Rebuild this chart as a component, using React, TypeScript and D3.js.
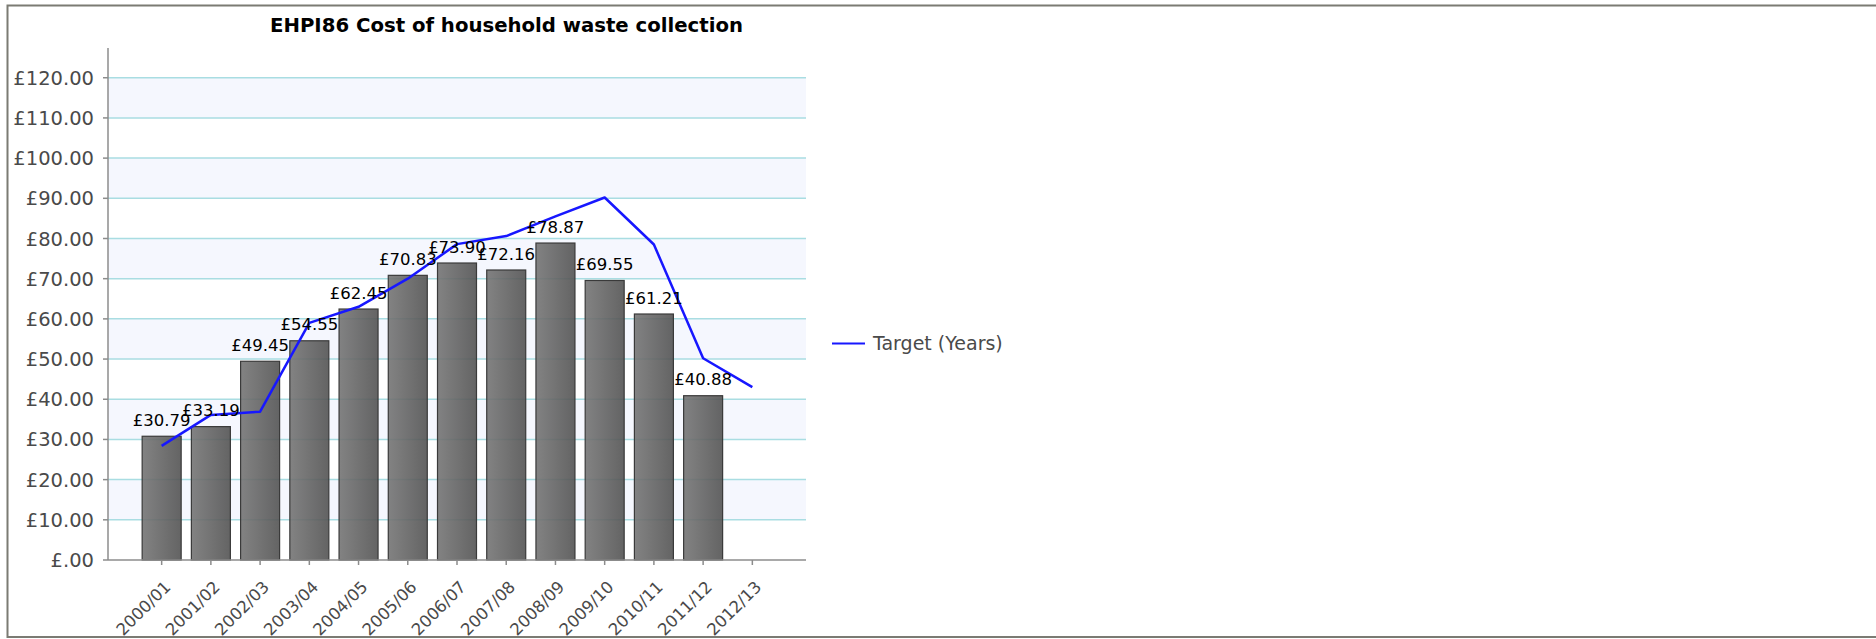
import * as d3 from "d3";

const categories = [
  "2000/01", "2001/02", "2002/03", "2003/04", "2004/05", "2005/06", "2006/07",
  "2007/08", "2008/09", "2009/10", "2010/11", "2011/12", "2012/13",
];
// actual cost per household (no value yet for 2012/13)
const actualValues: (number | null)[] = [
  30.79, 33.19, 49.45, 54.55, 62.45, 70.83, 73.9, 72.16, 78.87, 69.55, 61.21, 40.88, null,
];
// target line
const targetValues = [28.4, 36.1, 36.9, 59, 63, 70, 78.6, 80.6, 85.5, 90.2, 78.5, 50.2, 43];
const yTicks = [0, 10, 20, 30, 40, 50, 60, 70, 80, 90, 100, 110, 120];

const W = 1876;
const H = 639;
const plot = { left: 108, right: 806, top: 48, bottom: 560 };

const fmtMoney = (v: number) => (v === 0 ? "£.00" : "£" + v.toFixed(2));

export default function App() {
  const x = d3
    .scalePoint<string>()
    .domain(categories)
    .range([plot.left, plot.right])
    .padding(1.09);

  const y = d3.scaleLinear().domain([0, 127.4]).range([plot.bottom, plot.top]);

  const barW = 39;

  const line = d3
    .line<number>()
    .x((_, i) => x(categories[i])!)
    .y((d) => y(d));

  // alternating pale bands between gridlines
  const bands = yTicks.slice(0, -1).filter((_, i) => i % 2 === 1);

  return (
    <svg
      width={W}
      height={H}
      style={{ position: "absolute", left: 0, top: 0, background: "#fff" }}
    >
      <defs>
        <linearGradient id="barGrad" x1="0" x2="1" y1="0" y2="0">
          <stop offset="0" stopColor="#757575" />
          <stop offset="1" stopColor="#535353" />
        </linearGradient>
      </defs>

      {/* outer frame */}
      <rect x={7.5} y={5.5} width={W} height={631.5} fill="none" stroke="#7b7b73" strokeWidth={2} />

      {/* title */}
      <text
        x={506.5}
        y={31.5}
        textAnchor="middle"
        fontFamily="DejaVu Sans"
        fontWeight="bold"
        fontSize={20}
        textLength={473}
        lengthAdjust="spacingAndGlyphs"
        fill="#000"
      >
        EHPI86 Cost of household waste collection
      </text>

      {/* bands */}
      {bands.map((t) => (
        <rect
          key={"b" + t}
          x={plot.left}
          y={y(t + 10)}
          width={plot.right - plot.left}
          height={y(t) - y(t + 10)}
          fill="#f5f7fe"
        />
      ))}

      {/* gridlines */}
      {yTicks.slice(1).map((t) => (
        <line
          key={"g" + t}
          x1={plot.left}
          x2={plot.right}
          y1={y(t)}
          y2={y(t)}
          stroke="#a9dde2"
          strokeWidth={1.5}
        />
      ))}

      {/* bars */}
      {actualValues.map((v, i) =>
        v == null ? null : (
          <rect
            key={"r" + i}
            x={x(categories[i])! - barW / 2}
            y={y(v)}
            width={barW}
            height={y(0) - y(v)}
            fill="url(#barGrad)"
            fillOpacity={0.9}
            stroke="#3a3a3a"
            strokeWidth={1.2}
          />
        )
      )}

      {/* target line */}
      <path d={line(targetValues) ?? ""} fill="none" stroke="#1717ff" strokeWidth={2.5} strokeLinejoin="round" />

      {/* bar value labels */}
      {actualValues.map((v, i) =>
        v == null ? null : (
          <text
            key={"l" + i}
            x={x(categories[i])!}
            y={y(v) - 10.5}
            textAnchor="middle"
            fontFamily="DejaVu Sans"
            fontSize={16.5}
            fill="#000"
          >
            {fmtMoney(v)}
          </text>
        )
      )}

      {/* y axis */}
      <line x1={plot.left} x2={plot.left} y1={plot.top} y2={plot.bottom} stroke="#8c8c8c" strokeWidth={1.5} />
      {yTicks.map((t) => (
        <g key={"y" + t} transform={`translate(${plot.left},${y(t)})`}>
          <line x1={-5} x2={0} stroke="#8c8c8c" strokeWidth={1.5} />
          <text
            x={-14}
            dy="0.36em"
            textAnchor="end"
            fontFamily="DejaVu Sans"
            fontSize={19.5}
            fill="#4a4a4a"
          >
            {fmtMoney(t)}
          </text>
        </g>
      ))}

      {/* x axis */}
      <line x1={plot.left} x2={plot.right} y1={plot.bottom} y2={plot.bottom} stroke="#8c8c8c" strokeWidth={1.5} />
      {categories.map((c) => (
        <g key={"x" + c} transform={`translate(${x(c)},${plot.bottom})`}>
          <line y1={0} y2={5} stroke="#8c8c8c" strokeWidth={1.5} />
          <text
            transform="translate(10,28) rotate(-45)"
            textAnchor="end"
            fontFamily="DejaVu Sans"
            fontSize={16.5}
            fill="#4a4a4a"
          >
            {c}
          </text>
        </g>
      ))}

      {/* legend */}
      <line x1={832} x2={865} y1={343.5} y2={343.5} stroke="#1717ff" strokeWidth={2} />
      <text x={873} y={343.5} dy="0.36em" fontFamily="DejaVu Sans" fontSize={19} fill="#4a4a4a">
        Target (Years)
      </text>
    </svg>
  );
}
